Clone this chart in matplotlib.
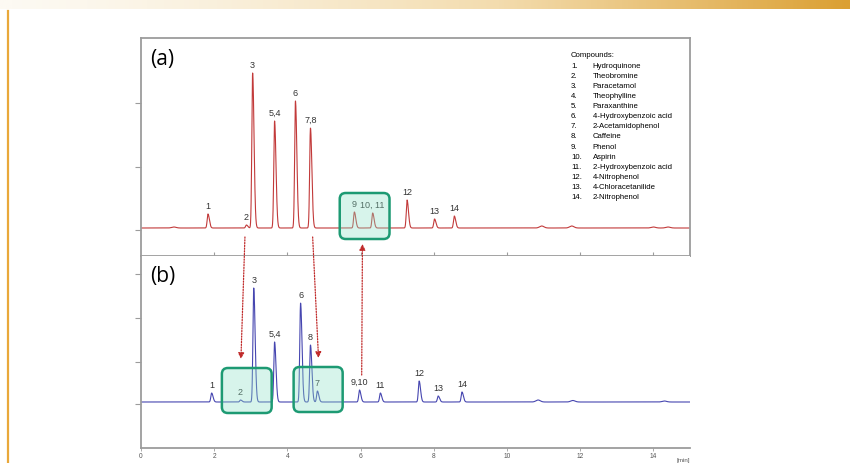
import numpy as np
import matplotlib
matplotlib.use('Agg')
import matplotlib.pyplot as plt
from matplotlib.colors import LinearSegmentedColormap
from matplotlib.patches import FancyBboxPatch
from matplotlib.lines import Line2D

plt.rcParams['font.family'] = ['Liberation Sans', 'DejaVu Sans']

# panel (a) peaks: retention time (min), height, label
a_rt = [1.83, 2.88, 3.05, 3.65, 4.22, 4.63, 5.83, 6.33, 7.27, 8.02, 8.56]
a_h = [14, 3, 155, 107, 127, 100, 16, 15, 28, 9, 12]
a_lab = ['1', '2', '3', '5,4', '6', '7,8', '9', '10, 11', '12', '13', '14']
a_minor_rt = [0.9, 10.95, 11.77, 14.0, 14.4]
a_minor_h = [1, 2, 2, 1, 1]

# panel (b) peaks
b_rt = [1.93, 2.72, 3.08, 3.65, 4.36, 4.63, 4.82, 5.97, 6.54, 7.6, 8.12, 8.77]
b_h = [9, 2, 114, 60, 99, 57, 11, 12, 9, 21, 6, 10]
b_lab = ['1', '2', '3', '5,4', '6', '8', '7', '9,10', '11', '12', '13', '14']
b_minor_rt = [10.85, 11.8, 14.3]
b_minor_h = [2, 1.5, 1]

compounds = ['Hydroquinone', 'Theobromine', 'Paracetamol', 'Theophylline',
             'Paraxanthine', '4-Hydroxybenzoic acid', '2-Acetamidophenol',
             'Caffeine', 'Phenol', 'Aspirin', '2-Hydroxybenzoic acid',
             '4-Nitrophenol', '4-Chloracetanilide', '2-Nitrophenol']

# highlighted regions (min range, signal range)
a_boxes = [(5.43, 6.79, -11, 35)]
b_boxes = [(2.21, 3.57, -11, 34), (4.17, 5.51, -10, 35)]

t = np.linspace(0, 15, 4000)


def trace(rts, hs, mrts, mhs):
    y = np.zeros_like(t)
    for rt, h in zip(rts, hs):
        s = np.where(t < rt, 0.022, 0.038)
        y += h * np.exp(-0.5 * ((t - rt) / s) ** 2)
    for rt, h in zip(mrts, mhs):
        y += h * np.exp(-0.5 * ((t - rt) / 0.06) ** 2)
    return y


W, H = 850, 463
fig = plt.figure(figsize=(8.5, 4.63), dpi=100)

# header bar and left rule
hdr = fig.add_axes([0, 1 - 9 / H, 1, 9 / H])
cm = LinearSegmentedColormap.from_list('hdr', ['#fdfaf3', '#f3dcae', '#dba033'])
hdr.imshow(np.linspace(0, 1, 400)[None, :] ** 1.3, aspect='auto', cmap=cm)
hdr.axis('off')
fig.add_artist(Line2D([7.5 / W, 7.5 / W], [0, 1 - 11 / H], color='#e9a83a', lw=1.6))

gray = '#9c9c9c'
L, R = 141 / W, 690 / W
ax_a = fig.add_axes([L, (H - 256) / H, R - L, (256 - 38) / H])
ax_b = fig.add_axes([L, (H - 448) / H, R - L, (448 - 256) / H])

ax_a.plot(t, trace(a_rt, a_h, a_minor_rt, a_minor_h), color='#c23a3a', lw=0.8)
ax_b.plot(t, trace(b_rt, b_h, b_minor_rt, b_minor_h), color='#4646b0', lw=0.8)

ax_a.set_xlim(0, 15)
ax_b.set_xlim(0, 15)
ax_a.set_ylim(-28, 190)
ax_b.set_ylim(-46, 146)

for sp in ax_a.spines.values():
    sp.set_color(gray)
    sp.set_linewidth(1.3)
ax_a.set_yticks([-2, 61, 125])
ax_a.set_yticklabels([])
ax_a.set_xticks([2, 4, 6, 8, 10, 12, 14])
ax_a.set_xticklabels([])
ax_a.tick_params(axis='x', direction='in', length=3, color=gray)
ax_a.tick_params(axis='y', direction='out', length=4, color=gray)

ax_b.spines['top'].set_visible(False)
ax_b.spines['right'].set_visible(False)
for sp in ['left', 'bottom']:
    ax_b.spines[sp].set_color(gray)
    ax_b.spines[sp].set_linewidth(1.3)
ax_b.set_yticks([-2, 40, 84, 128])
ax_b.set_yticklabels([])
ax_b.tick_params(axis='y', direction='out', length=4, color=gray)
ax_b.set_xticks(range(0, 16, 2))
ax_b.tick_params(axis='x', direction='out', length=2, width=0.6, color=gray, pad=1.5,
                 labelsize=4.8, labelcolor='#555555')
ax_b.annotate('[min]', xy=(0.987, 0), xycoords='axes fraction', xytext=(0, -9),
              textcoords='offset points', ha='center', va='center', fontsize=4.5,
              color='#555555')

for ax, rts, hs, labs in [(ax_a, a_rt, a_h, a_lab), (ax_b, b_rt, b_h, b_lab)]:
    for rt, h, lab in zip(rts, hs, labs):
        ax.annotate(lab, xy=(rt, h), xytext=(0, 2), textcoords='offset points',
                    ha='center', va='bottom', fontsize=6.5, color='#333333')

ax_a.text(0.017, 0.9, '(a)', transform=ax_a.transAxes, fontsize=15,
          family=['Open Sans', 'DejaVu Sans'], va='center', ha='left')
ax_b.text(0.017, 0.895, '(b)', transform=ax_b.transAxes, fontsize=15,
          family=['Open Sans', 'DejaVu Sans'], va='center', ha='left')

# compound list
lx, nx, y0, dy = 0.783, 0.823, 0.918, 0.0465
ax_a.text(lx, y0, 'Compounds:', transform=ax_a.transAxes, fontsize=5.6, va='center')
for i, name in enumerate(compounds):
    yy = y0 - (i + 1) * dy
    ax_a.text(lx, yy, f'{i + 1}.', transform=ax_a.transAxes, fontsize=5.6, va='center')
    ax_a.text(nx, yy, name, transform=ax_a.transAxes, fontsize=5.6, va='center')

# overlay in figure pixels for boxes
ov = fig.add_axes([0, 0, 1, 1], zorder=5)
ov.set_xlim(0, W)
ov.set_ylim(0, H)
ov.axis('off')
fig.canvas.draw()
for ax, boxes in [(ax_a, a_boxes), (ax_b, b_boxes)]:
    for x0, x1, y0_, y1_ in boxes:
        p0 = ax.transData.transform((x0, y0_))
        p1 = ax.transData.transform((x1, y1_))
        r = 6
        ov.add_patch(FancyBboxPatch((p0[0] + r, p0[1] + r), p1[0] - p0[0] - 2 * r,
                                    p1[1] - p0[1] - 2 * r,
                                    boxstyle=f'round,pad={r},rounding_size={r}',
                                    fc='#8fe0c6', alpha=0.35, ec='none'))
        ov.add_patch(FancyBboxPatch((p0[0] + r, p0[1] + r), p1[0] - p0[0] - 2 * r,
                                    p1[1] - p0[1] - 2 * r,
                                    boxstyle=f'round,pad={r},rounding_size={r}',
                                    fc='none', ec='#1d9a73', lw=1.8))

# dotted arrows linking panels
arrow_kw = dict(arrowstyle='-|>,head_length=0.35,head_width=0.18', ls=(0, (1, 1.2)),
                color='#c02a2a', lw=0.9, shrinkA=0, shrinkB=0)
ov.annotate('', xy=(2.73, 43), xycoords=ax_b.transData,
            xytext=(2.84, -9), textcoords=ax_a.transData, arrowprops=arrow_kw)
ov.annotate('', xy=(4.85, 44), xycoords=ax_b.transData,
            xytext=(4.69, -9), textcoords=ax_a.transData, arrowprops=arrow_kw)
ov.annotate('', xy=(6.05, -16), xycoords=ax_a.transData,
            xytext=(6.03, 27), textcoords=ax_b.transData, arrowprops=arrow_kw)

fig.savefig('out.png', dpi=100)
